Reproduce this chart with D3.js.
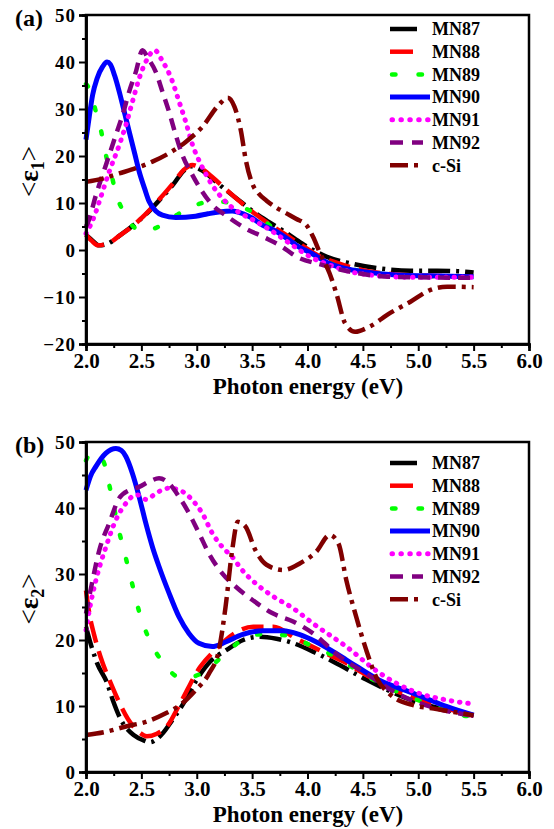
<!DOCTYPE html>
<html>
<head>
<meta charset="utf-8">
<script src="https://cdn.jsdelivr.net/npm/d3@7"></script>
<style>
body { margin: 0; background: #fff; }
svg text { font-family: "Liberation Serif", "Times New Roman", serif; font-weight: bold; }
</style>
</head>
<body>
<div id="chart"></div>
<script>
const W = 554, H = 829;

// legend names and tick labels
const names = ['MN87', 'MN88', 'MN89', 'MN90', 'MN91', 'MN92', 'c-Si'];
const xTicks = [2.0, 2.5, 3.0, 3.5, 4.0, 4.5, 5.0, 5.5, 6.0];
const yTicksA = [-20, -10, 0, 10, 20, 30, 40, 50];
const yTicksB = [0, 10, 20, 30, 40, 50];

// (a) <eps1>, pairs of [photon energy eV, value]
const e1_MN87 = [[2.0,3.2],[2.05,2.2],[2.12,1.0],[2.2,1.4],[2.3,3.0],[2.43,5.3],[2.55,7.8],[2.67,10.8],[2.79,14.0],[2.88,16.8],[2.95,17.8],[3.05,16.9],[3.15,15.0],[3.25,13.0],[3.38,10.6],[3.51,8.2],[3.65,6.0],[3.8,3.8],[3.95,1.4],[4.05,0.0],[4.17,-1.4],[4.38,-2.8],[4.65,-3.9],[4.93,-4.4],[5.17,-4.4],[5.35,-4.5],[5.5,-4.8]];
const e1_MN88 = [[2.0,3.2],[2.05,2.0],[2.11,1.0],[2.2,1.4],[2.3,3.0],[2.43,5.3],[2.55,7.9],[2.67,11.0],[2.79,14.3],[2.88,17.0],[2.96,18.1],[3.05,17.2],[3.15,15.3],[3.25,13.2],[3.38,10.5],[3.51,8.0],[3.65,5.6],[3.8,3.3],[3.95,1.0],[4.1,-1.2],[4.3,-3.0],[4.5,-4.3],[4.8,-5.2],[5.1,-5.5],[5.5,-5.6]];
const e1_MN89 = [[2.0,35.3],[2.03,34.3],[2.09,29.4],[2.12,27.0],[2.15,23.8],[2.18,20.2],[2.23,16.0],[2.27,12.0],[2.32,9.0],[2.4,5.7],[2.47,4.3],[2.54,4.0],[2.64,4.8],[2.74,6.2],[2.83,7.6],[2.93,9.0],[3.02,9.8],[3.11,10.3],[3.2,10.3],[3.3,10.0],[3.4,9.2],[3.47,8.5],[3.6,6.3],[3.75,3.6],[3.9,1.0],[4.05,-1.0],[4.2,-2.8],[4.4,-4.1],[4.6,-4.9],[4.9,-5.4],[5.2,-5.6],[5.5,-5.6]];
const e1_MN90 = [[2.0,23.5],[2.03,28.5],[2.06,33.0],[2.1,36.5],[2.15,39.0],[2.19,40.0],[2.22,39.5],[2.26,37.0],[2.3,33.7],[2.35,29.0],[2.39,25.2],[2.44,20.5],[2.48,16.7],[2.53,13.0],[2.57,10.3],[2.63,8.3],[2.69,7.4],[2.81,6.9],[2.99,7.2],[3.1,7.7],[3.2,8.1],[3.32,8.3],[3.42,7.7],[3.5,6.8],[3.6,5.2],[3.69,4.3],[3.8,2.7],[3.9,1.0],[4.05,-0.9],[4.2,-2.9],[4.35,-4.0],[4.5,-4.6],[4.8,-5.3],[5.1,-5.5],[5.5,-5.7]];
const e1_MN91 = [[2.0,3.5],[2.03,4.8],[2.08,7.5],[2.12,10.3],[2.21,16.7],[2.3,22.3],[2.36,26.6],[2.42,31.6],[2.48,36.5],[2.55,40.5],[2.62,42.5],[2.69,40.2],[2.77,36.5],[2.84,31.6],[2.9,27.3],[2.96,22.5],[3.04,18.1],[3.14,13.8],[3.26,10.3],[3.38,8.0],[3.5,6.5],[3.66,4.3],[3.84,1.4],[4.02,-1.4],[4.2,-3.2],[4.38,-4.6],[4.56,-5.3],[4.93,-5.8],[5.5,-5.8]];
const e1_MN92 = [[2.0,5.0],[2.02,6.0],[2.09,11.7],[2.18,18.1],[2.27,24.5],[2.33,28.7],[2.39,33.7],[2.45,37.9],[2.51,42.5],[2.56,40.8],[2.63,37.9],[2.69,33.7],[2.75,29.4],[2.81,24.5],[2.87,20.2],[2.96,16.0],[3.05,12.4],[3.14,9.6],[3.26,7.4],[3.44,4.6],[3.6,2.8],[3.75,1.0],[3.9,-1.4],[4.14,-3.2],[4.38,-4.6],[4.62,-5.5],[4.93,-5.8],[5.5,-5.9]];
const e1_cSi = [[2.0,14.5],[2.15,15.2],[2.3,16.3],[2.45,17.4],[2.6,18.8],[2.75,20.6],[2.9,23.0],[3.05,26.2],[3.2,30.9],[3.28,32.4],[3.34,30.5],[3.4,25.2],[3.44,19.5],[3.5,14.2],[3.56,12.0],[3.63,10.5],[3.72,9.0],[3.81,7.8],[3.9,6.6],[3.99,5.3],[4.05,2.8],[4.11,-0.5],[4.2,-5.0],[4.26,-9.2],[4.34,-15.6],[4.43,-17.4],[4.56,-16.3],[4.74,-13.5],[4.93,-11.0],[5.11,-8.5],[5.26,-7.8],[5.5,-7.9]];

// (b) <eps2>
const e2_MN87 = [[2.0,22.0],[2.05,19.0],[2.1,16.5],[2.19,13.5],[2.24,11.0],[2.31,8.1],[2.43,5.6],[2.52,4.8],[2.58,4.5],[2.64,5.0],[2.7,6.0],[2.76,7.4],[2.88,10.4],[3.0,14.0],[3.12,16.7],[3.27,18.5],[3.42,20.0],[3.57,20.5],[3.72,20.2],[3.84,19.7],[4.08,18.0],[4.29,16.2],[4.53,14.0],[4.75,12.2],[5.02,10.4],[5.26,9.4],[5.5,8.6]];
const e2_MN88 = [[2.0,27.5],[2.03,24.0],[2.07,21.0],[2.13,17.5],[2.23,13.2],[2.29,10.9],[2.38,8.0],[2.49,5.9],[2.55,5.4],[2.64,5.8],[2.73,6.9],[2.85,10.4],[3.03,15.9],[3.18,18.7],[3.33,20.9],[3.51,22.0],[3.69,22.0],[3.9,20.2],[4.2,17.7],[4.35,16.5],[4.53,14.7],[4.75,12.7],[4.96,11.2],[5.2,9.9],[5.5,8.5]];
const e2_MN89 = [[2.0,47.2],[2.03,48.0],[2.09,48.3],[2.13,47.8],[2.17,46.5],[2.21,43.5],[2.3,36.4],[2.36,32.4],[2.42,28.3],[2.48,24.3],[2.56,20.5],[2.69,16.7],[2.87,14.2],[3.07,15.2],[3.26,18.0],[3.41,20.0],[3.6,20.9],[3.81,20.7],[4.05,19.0],[4.25,17.5],[4.47,15.2],[4.68,13.2],[4.92,11.4],[5.17,9.9],[5.39,8.6],[5.5,8.4]];
const e2_MN90 = [[2.0,42.7],[2.04,44.8],[2.09,46.3],[2.18,48.3],[2.27,49.0],[2.32,48.7],[2.36,47.8],[2.42,45.2],[2.48,41.7],[2.54,37.7],[2.6,34.1],[2.66,31.1],[2.75,27.1],[2.84,23.5],[2.93,21.0],[3.02,19.5],[3.14,19.0],[3.26,19.7],[3.41,20.8],[3.6,21.4],[3.78,21.4],[3.93,20.8],[4.08,19.7],[4.35,17.0],[4.65,13.9],[4.96,11.9],[5.26,9.9],[5.5,8.6]];
const e2_MN91 = [[2.0,21.5],[2.03,24.5],[2.09,29.1],[2.18,34.1],[2.27,38.2],[2.36,40.7],[2.45,42.0],[2.5,41.8],[2.54,41.3],[2.58,41.6],[2.63,42.2],[2.75,43.0],[2.87,42.5],[2.96,41.2],[3.05,39.2],[3.14,36.2],[3.23,34.1],[3.32,32.6],[3.41,30.6],[3.53,28.6],[3.69,26.6],[3.87,24.8],[4.05,22.5],[4.35,19.0],[4.65,15.0],[4.96,12.2],[5.26,10.9],[5.5,10.3]];
const e2_MN92 = [[2.0,24.0],[2.06,29.1],[2.12,33.6],[2.21,37.7],[2.3,41.5],[2.39,42.7],[2.48,43.2],[2.57,44.0],[2.66,44.5],[2.75,43.7],[2.84,41.7],[2.93,39.2],[3.02,36.2],[3.11,33.1],[3.23,30.1],[3.35,28.1],[3.5,26.1],[3.69,24.0],[3.87,22.8],[4.05,21.0],[4.29,17.5],[4.53,14.9],[4.81,11.9],[5.11,9.9],[5.5,8.5]];
const e2_cSi = [[2.0,5.6],[2.18,6.1],[2.36,6.9],[2.54,7.6],[2.72,8.9],[2.87,10.4],[2.99,12.4],[3.11,14.9],[3.2,18.5],[3.26,25.0],[3.32,33.6],[3.37,37.9],[3.44,37.2],[3.53,33.6],[3.63,31.4],[3.78,30.6],[3.93,31.6],[4.08,33.4],[4.2,35.9],[4.28,34.6],[4.35,29.1],[4.44,23.5],[4.53,18.5],[4.62,14.4],[4.75,11.7],[4.96,10.1],[5.14,9.6],[5.32,9.1],[5.5,8.6]];

// line looks, same order as names
const colors = ['#000000', '#ff0000', '#00ff00', '#0000ff', '#ff00ff', '#800080', '#800000'];
const dashes = ['22,6,3,6', '22,9', '3,22', null, '0.5,7.8', '12,8', '18,6,4,6'];
const legDashes = ['27,20', '23,20', '3.5,23,3.5,20', null, '0.5,8.4', '13,9,11,20', '18,6,4,20'];
const caps = ['butt', 'butt', 'round', 'butt', 'round', 'butt', 'butt'];
const widths = [4.5, 4.5, 4.5, 5, 5, 4.5, 4.5];

const svg = d3.select('#chart').append('svg')
  .attr('width', W)
  .attr('height', H);

const x = d3.scaleLinear().domain([2, 6]).range([86, 529]);
const xMinor = d3.range(2.25, 6, 0.5);

function panel(p) {
  let y = d3.scaleLinear().domain(p.yDomain).range([p.bottom, p.top]);
  let g = svg.append('g');

  let line = d3.line()
    .x(d => x(d[0]))
    .y(d => y(d[1]))
    .curve(d3.curveMonotoneX);

  p.data.forEach((d, i) => {
    g.append('path')
      .attr('d', line(d))
      .attr('fill', 'none')
      .attr('stroke', colors[i])
      .attr('stroke-width', widths[i])
      .attr('stroke-linecap', caps[i])
      .attr('stroke-linejoin', 'round')
      .attr('stroke-dasharray', dashes[i]);
  });

  // frame
  g.append('rect')
    .attr('x', x(2)).attr('y', p.top)
    .attr('width', x(6) - x(2)).attr('height', p.bottom - p.top)
    .attr('fill', 'none').attr('stroke', '#000').attr('stroke-width', 2.5);

  // minor ticks
  g.append('g').attr('class', 'ax')
    .attr('transform', 'translate(0,' + p.bottom + ')')
    .call(d3.axisBottom(x).tickValues(xMinor).tickSize(4).tickFormat(''));
  g.append('g').attr('class', 'ax')
    .attr('transform', 'translate(86,0)')
    .call(d3.axisLeft(y).tickValues(p.yTicks.slice(1).map(v => v - 5)).tickSize(4).tickFormat(''));

  g.append('g').attr('class', 'ax')
    .attr('transform', 'translate(0,' + p.bottom + ')')
    .call(d3.axisBottom(x).tickValues(xTicks).tickSize(7).tickPadding(2).tickFormat(d3.format('.1f')))
    .selectAll('text').attr('font-size', 21);
  g.append('g').attr('class', 'ax')
    .attr('transform', 'translate(86,0)')
    .call(d3.axisLeft(y).tickValues(p.yTicks).tickSize(7).tickPadding(3))
    .selectAll('text').attr('font-size', 19).attr('letter-spacing', 1);

  g.selectAll('.ax .domain').attr('stroke-width', 2.5);
  g.selectAll('.ax line').attr('stroke-width', 2);
  g.selectAll('.ax text').attr('fill', '#000');

  // panel letter
  g.append('text')
    .attr('x', 15).attr('y', p.top + 11)
    .attr('font-size', 24)
    .text(p.letter);

  // axis titles
  g.append('text')
    .attr('x', 308).attr('y', p.bottom + 50)
    .attr('text-anchor', 'middle')
    .attr('font-size', 23)
    .text('Photon energy (eV)');

  let yt = g.append('text')
    .attr('transform', 'translate(38,' + ((p.top + p.bottom) / 2 - 8) + ') rotate(-90)')
    .attr('text-anchor', 'middle')
    .attr('font-size', 27);
  yt.append('tspan').attr('font-weight', 'normal').text('<');
  yt.append('tspan').text('ε');
  yt.append('tspan').attr('font-size', 18).attr('dy', 6).text(p.sub);
  yt.append('tspan').attr('font-weight', 'normal').attr('dy', -6).text('>');

  // legend
  names.forEach((n, i) => {
    let ly = p.legendTop + i * 22.7;
    let x1 = caps[i] == 'round' ? 392 : 390;
    g.append('line')
      .attr('x1', x1).attr('x2', 430)
      .attr('y1', ly).attr('y2', ly)
      .attr('stroke', colors[i])
      .attr('stroke-width', widths[i])
      .attr('stroke-linecap', caps[i])
      .attr('stroke-dasharray', legDashes[i]);
    g.append('text')
      .attr('x', 432).attr('y', ly)
      .attr('dy', '0.35em')
      .attr('font-size', 18)
      .text(n);
  });
}

panel({
  top: 15, bottom: 344, yDomain: [-20, 50], yTicks: yTicksA,
  data: [e1_MN87, e1_MN88, e1_MN89, e1_MN90, e1_MN91, e1_MN92, e1_cSi],
  letter: '(a)', sub: '1', legendTop: 29
});

panel({
  top: 442, bottom: 772, yDomain: [0, 50], yTicks: yTicksB,
  data: [e2_MN87, e2_MN88, e2_MN89, e2_MN90, e2_MN91, e2_MN92, e2_cSi],
  letter: '(b)', sub: '2', legendTop: 463
});
</script>
</body>
</html>
